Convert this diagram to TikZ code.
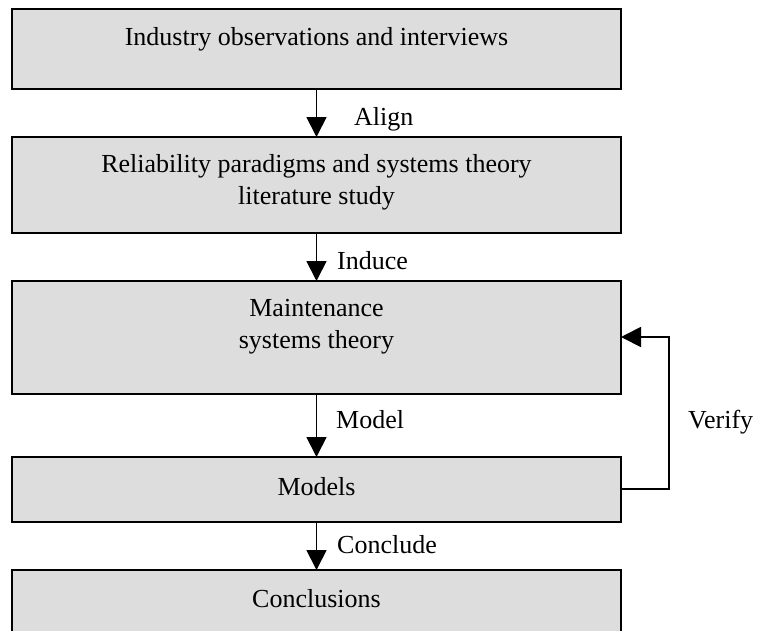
\documentclass[tikz,border=0pt]{standalone}
\usepackage{fontspec}
\setmainfont{Liberation Serif}
\usetikzlibrary{arrows.meta}
\definecolor{boxgray}{HTML}{DDDDDD}
\begin{document}
\begin{tikzpicture}[x=1pt,y=-1pt,
  stage/.style={draw=black, fill=boxgray, line width=1.8pt, rectangle,
    minimum width=609pt, inner sep=0pt, outer sep=0pt},
  txt/.style={font=\fontsize{26pt}{32pt}\selectfont, inner sep=0pt, align=center},
  flow/.style={draw=black, line width=1.8pt, -{Triangle[length=20pt,width=20pt]}},
  lab/.style={font=\fontsize{26pt}{32pt}\selectfont, inner sep=0pt, anchor=base west}]
  \clip (0,0) rectangle (760,630);
  \useasboundingbox (0,0) rectangle (760,630);

  % process stages
  \node[stage, minimum height=80pt]  (s1) at (316.5,49) {};
  \node[stage, minimum height=96pt]  (s2) at (316.5,185) {};
  \node[stage, minimum height=113pt] (s3) at (316.5,337.5) {};
  \node[stage, minimum height=65pt]  (s4) at (316.5,489.5) {};
  \node[stage, minimum height=80pt]  (s5) at (316.5,610) {};

  % stage texts
  \node[txt, anchor=base] (t1) at (316.5,45) {Industry observations and interviews};
  \node[txt] (t2) at (316.5,182) {Reliability paradigms and systems theory\\literature study};
  \node[txt] (t3) at (316.5,327) {Maintenance\\systems theory};
  \node[txt, anchor=base] (t4) at (316.5,495) {Models};
  \node[txt, anchor=base] (t5) at (316.5,607) {Conclusions};

  % downward flow
  \draw[flow] (s1.south) -- (s2.north);
  \draw[flow] (s2.south) -- (s3.north);
  \draw[flow] (s3.south) -- (s4.north);
  \draw[flow] (s4.south) -- (s5.north);

  % feedback loop from models back to the theory
  \coordinate (vb) at (669,489);
  \coordinate (vt) at (669,337);
  \draw[flow] (s4.east |- vb) -- (vb) -- (vt) -- (s3.east |- vt);

  % connector labels
  \node[lab] (l1) at (354,125) {Align};
  \node[lab] (l2) at (337,269) {Induce};
  \node[lab] (l3) at (336,428) {Model};
  \node[lab] (l4) at (337,553) {Conclude};
  \node[lab] (l5) at (688,428) {Verify};
\end{tikzpicture}
\end{document}
